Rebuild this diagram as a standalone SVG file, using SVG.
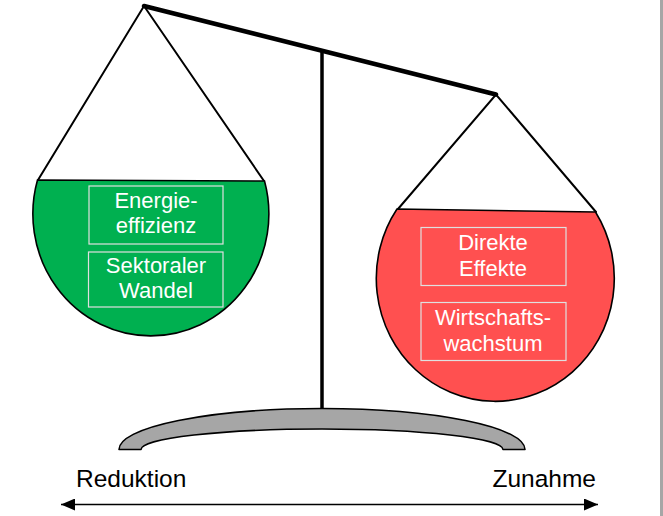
<svg xmlns="http://www.w3.org/2000/svg" width="663" height="516" viewBox="0 0 663 516">
<style>
.lbl{font-family:"Liberation Sans",Arial,sans-serif;font-size:22px;fill:#ffffff;text-anchor:middle}
.axis{font-family:"Liberation Sans",Arial,sans-serif;font-size:24.5px;fill:#000000}
.box{fill:none;stroke:#e0e0e0;stroke-width:1.2}
.rope{stroke:#000;stroke-width:2;fill:none;stroke-linecap:round}
.bowl{stroke:#000;stroke-width:1.6}
</style>
<defs>
<marker id="ah" viewBox="0 0 14 12" refX="14" refY="6" markerWidth="14" markerHeight="12" markerUnits="userSpaceOnUse" orient="auto-start-reverse">
<path d="M0,0 L14,6 L0,12 Z" fill="#000"/>
</marker>
</defs>
<rect width="663" height="516" fill="#ffffff"/>
<rect x="660" y="0" width="3" height="516" fill="#a6a6a6"/>

<g id="post">
<line x1="322" y1="50" x2="322" y2="410" stroke="#000" stroke-width="3.5"/>
</g>
<g id="beam">
<line x1="144" y1="6" x2="496" y2="94.5" stroke="#000" stroke-width="4.5" stroke-linecap="round"/>
</g>

<g id="left-pan">
<polyline class="rope" points="38,180 144,6 264,181"/>
<path class="bowl" fill="#00b050" d="M37.5,180 L264.5,181 A118,122 0 1 1 37.5,180 Z"/>
</g>
<g id="node-energie">
<rect class="box" x="89" y="186" width="134" height="58"/>
<text class="lbl" x="156" y="208">Energie-</text>
<text class="lbl" x="156" y="233">effizienz</text>
</g>
<g id="node-sektoral">
<rect class="box" x="88.5" y="252" width="134.5" height="55"/>
<text class="lbl" x="156" y="272.5">Sektoraler</text>
<text class="lbl" x="156" y="298">Wandel</text>
</g>

<g id="right-pan">
<polyline class="rope" points="398,209 496,94.5 596,212"/>
<path class="bowl" fill="#ff5050" d="M397,209 L595.5,212 A119,123 0 1 1 397,209 Z"/>
</g>
<g id="node-direkte">
<rect class="box" x="421" y="227.5" width="145" height="58"/>
<text class="lbl" x="493" y="250">Direkte</text>
<text class="lbl" x="493" y="276">Effekte</text>
</g>
<g id="node-wachstum">
<rect class="box" x="421" y="302.5" width="145" height="58"/>
<text class="lbl" x="493" y="325">Wirtschafts-</text>
<text class="lbl" x="493" y="350.5">wachstum</text>
</g>

<g id="base">
<path d="M119,449.5 A203,41 0 0 1 525,449.5 L503,449.5 A181,20.5 0 0 0 141,449.5 Z" fill="#a6a6a6" stroke="#000" stroke-width="1.6" stroke-linejoin="round"/>
</g>

<g id="label-reduktion">
<text class="axis" x="76" y="486.5">Reduktion</text>
</g>
<g id="label-zunahme">
<text class="axis" x="596" y="486.5" text-anchor="end">Zunahme</text>
</g>

<g id="connectors">
<line x1="61" y1="504.5" x2="598" y2="504.5" stroke="#000" stroke-width="1.6" marker-start="url(#ah)" marker-end="url(#ah)"/>
</g>
</svg>
